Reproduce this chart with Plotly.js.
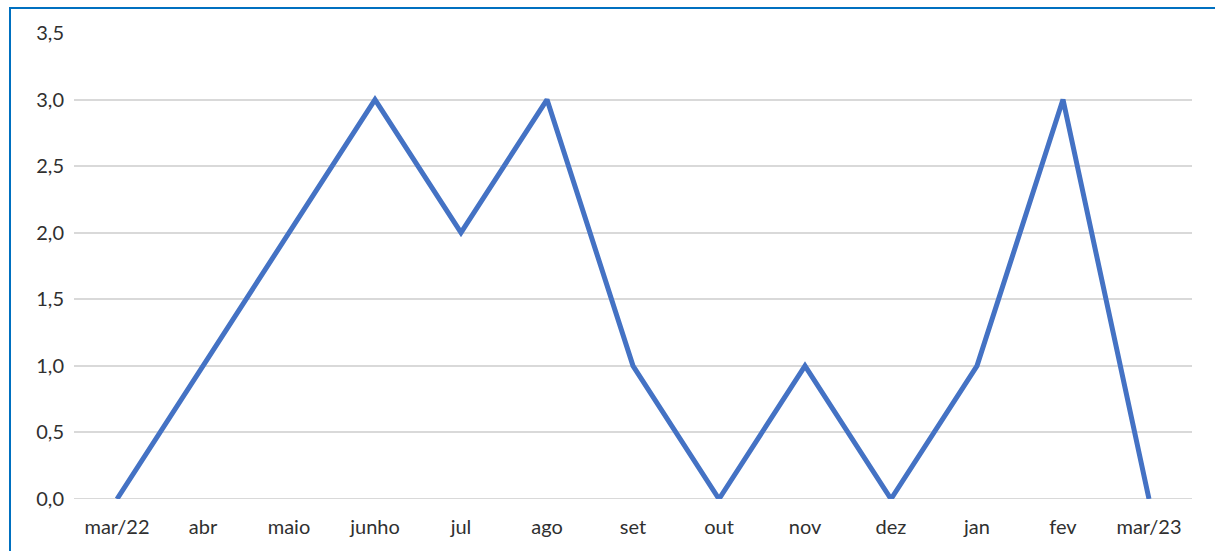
<!DOCTYPE html>
<html>
<head>
<meta charset="utf-8">
<script src="https://cdn.plot.ly/plotly-3.0.1.min.js"></script>
<style>
html,body{margin:0;padding:0;background:#fff;}
#wrap{position:relative;width:1215px;height:551px;}
#chart{width:1215px;height:551px;}
#frame{position:absolute;left:9px;top:7px;width:1206px;height:544px;border-top:2px solid #0070C0;border-left:2px solid #0070C0;pointer-events:none;}
</style>
</head>
<body>
<div id="wrap"><div id="chart"></div><div id="frame"></div></div>
<script>
const categories = ["mar/22","abr","maio","junho","jul","ago","set","out","nov","dez","jan","fev","mar/23"];
const values = [0,1,2,3,2,3,1,0,1,0,1,3,0];
const yTickVals = [0,0.5,1,1.5,2,2.5,3,3.5];
const yTickText = ["0,0","0,5","1,0","1,5","2,0","2,5","3,0","3,5"];

const trace = {
  type: "scatter", mode: "lines",
  x: categories, y: values,
  line: {color: "#4472C4", width: 5},
  hoverinfo: "x+y"
};
const layout = {
  width: 1215, height: 551,
  margin: {l: 74, r: 23, t: 33, b: 52},
  paper_bgcolor: "#ffffff", plot_bgcolor: "#ffffff",
  showlegend: false,
  font: {family: "Lato, 'Open Sans', sans-serif", size: 20, color: "#303030"},
  xaxis: {
    type: "category", range: [-0.5, 12.5],
    showgrid: false, zeroline: false, showline: false, ticks: "",
    tickfont: {size: 20, color: "#303030"}, ticklabelstandoff: 14
  },
  yaxis: {
    range: [0, 3.5], tickvals: yTickVals, ticktext: yTickText,
    showgrid: true, gridcolor: "#d9d9d9", gridwidth: 2,
    zeroline: false, showline: false, ticks: "",
    tickfont: {size: 20, color: "#303030"}, ticklabelstandoff: 9
  },
  shapes: [{type: "line", xref: "paper", yref: "y", x0: 0, x1: 1, y0: 0, y1: 0, line: {color: "#d9d9d9", width: 2}, layer: "below"}]
};
Plotly.newPlot("chart", [trace], layout, {displayModeBar: false, staticPlot: true});
</script>
</body>
</html>
